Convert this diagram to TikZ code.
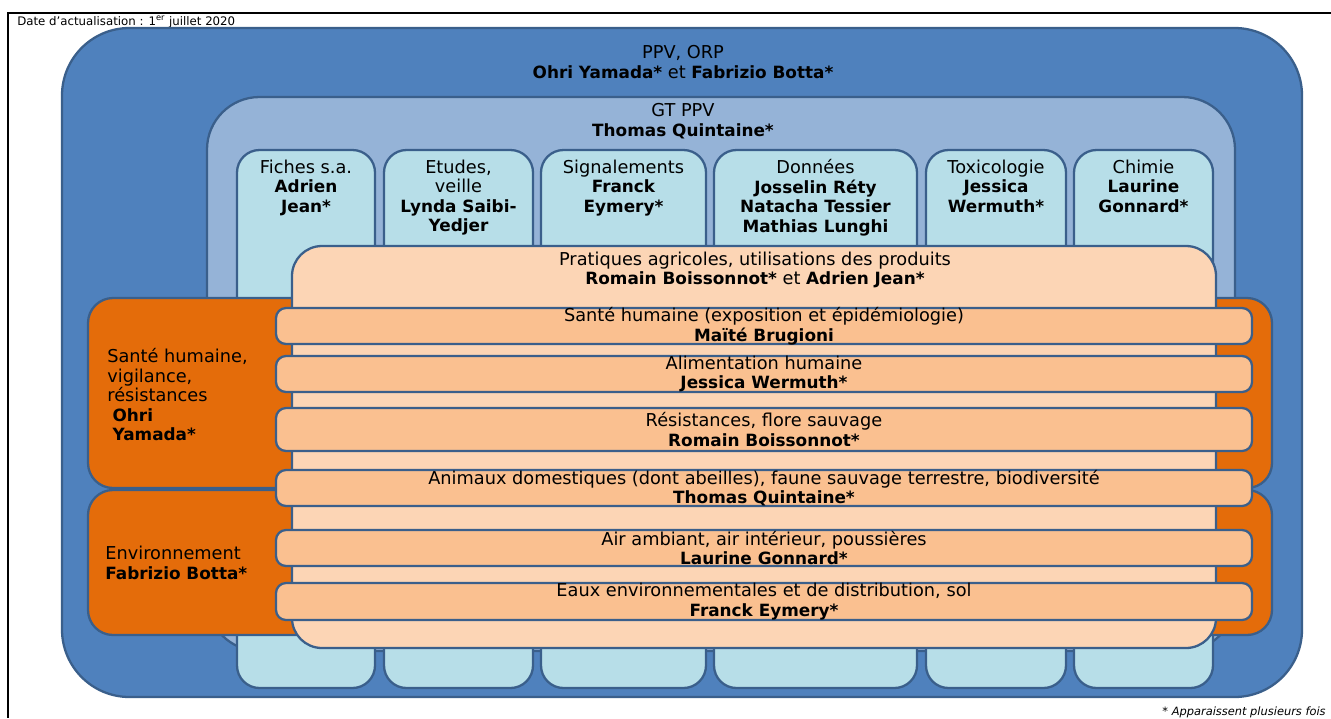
\documentclass[tikz,border=0pt]{standalone}
\usepackage{fontspec}
\setmainfont{DejaVu Sans}
\usetikzlibrary{positioning,fit}

\definecolor{ppvblue}{HTML}{4F81BD}
\definecolor{gtblue}{HTML}{95B3D7}
\definecolor{themeblue}{HTML}{B7DEE8}
\definecolor{areaorange}{HTML}{E46C0A}
\definecolor{pratpeach}{HTML}{FCD5B5}
\definecolor{subpeach}{HTML}{FAC090}
\definecolor{edgeblue}{HTML}{3A5F8B}

\newcommand{\nom}[1]{{\fontsize{9.6}{11.1}\selectfont\bfseries #1}}

\begin{document}
\begin{tikzpicture}[x=0.02cm, y=-0.02cm, font=\fontsize{10.1}{11.1}\selectfont,
    every box/.style={draw=edgeblue, line width=1.3pt, inner sep=0pt},
    ppv box/.style={every box, fill=ppvblue, rounded corners=1.35cm},
    gt box/.style={every box, fill=gtblue, rounded corners=1.05cm},
    theme box/.style={every box, fill=themeblue, rounded corners=0.45cm},
    area box/.style={every box, fill=areaorange, rounded corners=0.5cm},
    pratique box/.style={every box, fill=pratpeach, rounded corners=0.6cm},
    sub box/.style={every box, fill=subpeach, rounded corners=0.2cm},
    box text/.style={align=center, inner sep=0pt}]

        \useasboundingbox (0,0) rectangle (1331,718);

        % frame
        \coordinate (frame-tr) at (1331,13);
        \coordinate (frame-tl) at (8,13);
        \coordinate (frame-bl) at (8,718);
        \draw [line width=1.6pt] (frame-tr) -- (frame-tl) -- (frame-bl);
        \node [anchor=west, inner sep=0pt, font=\fontsize{6.7}{7.5}\selectfont] (date) at (17,22)
        {Date d’actualisation : 1\textsuperscript{er} juillet 2020};

        % outer boxes
        \node [ppv box, fit={(62,28) (1302,697)}] (ppv) {};
        \node [gt box, fit={(207,97) (1235,651)}] (gt) {};

        % themes
        \foreach \a/\b/\t [count=\i] in {
            237/375/{Fiches s.a.\\\nom{Adrien}\\\nom{Jean*}},
            384/533/{Etudes,\\veille\\\nom{Lynda Saibi-}\\\nom{Yedjer}},
            541/706/{Signalements\\\nom{Franck}\\\nom{Eymery*}},
            714/917/{Données\\\nom{Josselin Réty}\\\nom{Natacha Tessier}\\\nom{Mathias Lunghi}},
            926/1066/{Toxicologie\\\nom{Jessica}\\\nom{Wermuth*}},
            1074/1213/{Chimie\\\nom{Laurine}\\\nom{Gonnard*}}}
        {
        \node [theme box, fit={(\a,150) (\b,688)}] (theme-\i) {};
        \node [box text, below=6pt of theme-\i.north] (theme-text-\i) {\t};
        }

        % areas
        \node [area box, fit={(88,298) (1272,488)}] (sante) {};
        \node [area box, fit={(88,490) (1272,635)}] (env) {};
        \node [pratique box, fit={(292,246) (1216,648)}] (pratiques) {};

        % sub groups
        \foreach \c/\d/\t/\n [count=\i] in {
            308/344/{Santé humaine (exposition et épidémiologie)}/{Maïté Brugioni},
            356/392/{Alimentation humaine}/{Jessica Wermuth*},
            408/451/{Résistances, flore sauvage}/{Romain Boissonnot*},
            470/506/{Animaux domestiques (dont abeilles), faune sauvage terrestre, biodiversité}/{Thomas Quintaine*},
            530/566/{Air ambiant, air intérieur, poussières}/{Laurine Gonnard*},
            583/620/{Eaux environnementales et de distribution, sol}/{Franck Eymery*}}
        {
        \node [sub box, fit={(276,\c) (1252,\d)}] (sub-\i) {};
        \node [box text] (sub-text-\i) at (sub-\i) {\t\\\nom{\n}};
        }

        % labels
        \node [box text] (ppv-text) at (683,62)
        {PPV, ORP\\\nom{Ohri Yamada*} et \nom{Fabrizio Botta*}};
        \node [box text] (gt-text) at (683,121) {GT PPV\\\nom{Thomas Quintaine*}};
        \node [box text] (pratiques-text) at (755,270)
        {Pratiques agricoles, utilisations des produits\\\nom{Romain Boissonnot*} et \nom{Adrien Jean*}};
        \node [box text, align=left, anchor=west] (sante-text) at (107,395)
        {Santé humaine,\\vigilance,\\résistances\\\hspace*{3pt}\nom{Ohri}\\\hspace*{3pt}\nom{Yamada*}};
        \node [box text, align=left, anchor=west] (env-text) at (105,563)
        {Environnement\\\nom{Fabrizio Botta*}};

        \node [anchor=east, inner sep=0pt, font=\fontsize{6.5}{7.5}\selectfont\itshape] (note) at (1326,712)
        {* Apparaissent plusieurs fois};

\end{tikzpicture}
\end{document}
